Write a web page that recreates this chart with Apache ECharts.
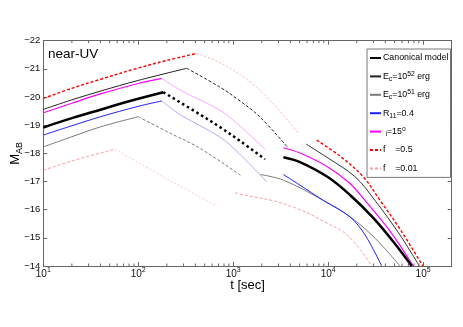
<!DOCTYPE html>
<html>
<head>
<meta charset="utf-8">
<script src="https://cdn.jsdelivr.net/npm/echarts@6/dist/echarts.min.js"></script>
<style>html,body{margin:0;padding:0;background:#fff}#c{width:463px;height:327px}</style>
</head>
<body>
<div id="c"></div>
<script>
// ---- data (t in sec, M_AB) ----
// Canonical model
const canonRiseT = [10, 20, 40, 80, 184];
const canonRiseM = [-18.92, -19.25, -19.55, -19.85, -20.17];
const canonFallT = [184, 447, 726, 1180, 2160];
const canonFallM = [-20.17, -19.38, -18.93, -18.44, -17.79];
const canonLateT = [3375, 5050, 10000, 17000, 30000, 50000, 75900];
const canonLateM = [-17.86, -17.69, -17.15, -16.52, -15.7, -14.81, -14.0];
// E_c = 1e52 erg
const e52RiseT = [10, 20, 40, 100, 324];
const e52RiseM = [-19.56, -19.9, -20.21, -20.59, -21.02];
const e52FallT = [324, 726, 1180, 1915, 3800];
const e52FallM = [-21.02, -20.35, -19.86, -19.29, -18.19];
const e52LateT = [5850, 10000, 19200, 31100, 57100, 91200];
const e52LateM = [-18.33, -17.83, -17.17, -16.33, -15.1, -14.0];
// E_c = 1e51 erg
const e51RiseT = [10, 20, 40, 100];
const e51RiseM = [-18.23, -18.59, -18.94, -19.3];
const e51FallT = [100, 216, 447, 1230];
const e51FallM = [-19.3, -18.72, -18.18, -17.19];
const e51LateT = [1915, 3375, 8890, 17000, 31100, 57100];
const e51LateM = [-17.25, -17.05, -16.33, -15.75, -14.99, -14.0];
// R_11 = 0.4
const r11RiseT = [10, 20, 40, 100, 177];
const r11RiseM = [-18.65, -18.98, -19.3, -19.67, -19.86];
const r11FallT = [177, 286, 726, 1180, 2250];
const r11FallM = [-19.86, -19.34, -18.58, -17.96, -16.99];
const r11LateT = [3375, 5050, 8890, 17000, 24500, 36600];
const r11LateM = [-17.25, -16.87, -16.33, -15.74, -15.1, -14.0];
// i = 15 deg
const incRiseT = [10, 20, 40, 100, 177];
const incRiseM = [-19.44, -19.78, -20.11, -20.48, -20.66];
const incFallT = [177, 286, 726, 1180, 2160];
const incFallM = [-20.66, -20.22, -19.53, -18.97, -18.14];
const incLateT = [3375, 5050, 10000, 17000, 24400, 44800, 78900];
const incLateM = [-18.2, -18.01, -17.51, -16.93, -16.33, -15.24, -14.0];
// f = 0.5
const f05RiseT = [10, 20, 40, 100, 200, 413];
const f05RiseM = [-19.95, -20.31, -20.63, -21.03, -21.3, -21.55];
const f05FallT = [413, 726, 1500, 2755, 4900];
const f05FallM = [-21.55, -21.22, -20.54, -19.7, -18.69];
const f05LateT = [7570, 13330, 23400, 35200, 57100, 99400];
const f05LateM = [-18.47, -17.9, -17.17, -16.33, -15.31, -14.0];
// f = 0.01
const f001RiseT = [10, 20, 57];
const f001RiseM = [-17.4, -17.73, -18.15];
const f001FallT = [57, 234, 670];
const f001FallM = [-18.15, -16.97, -16.13];
const f001LateT = [1045, 1500, 2755, 5050, 9270, 16300, 28800];
const f001LateM = [-16.6, -16.48, -16.3, -16.0, -15.56, -15.07, -14.0];

// axis ticks
const minorTicks = [20,30,40,50,60,70,80,90,200,300,400,500,600,700,800,900,
  2000,3000,4000,5000,6000,7000,8000,9000,20000,30000,40000,50000,60000,70000,80000,90000];

const legendNames = ['canon','e52','e51','r11','inc','f05','f001'];
const legendLabels = {
  canon: 'Canonical model',
  e52: 'E{sub|c}=10{sup|52} erg',
  e51: 'E{sub|c}=10{sup|51} erg',
  r11: 'R{sub|11}=0.4',
  inc: ' {sub|i}=15{sup|o}',
  f05: 'f    =0.5',
  f001: 'f    =0.01'
};

const FONT = '"Liberation Sans", Arial, Helvetica, sans-serif';
const AXC = '#666';

function seg(name, T, M, color, width, type, z) {
  return {
    type: 'line', name: name, xAxisIndex: 0, yAxisIndex: 0,
    data: T.map((t, i) => [t, M[i]]),
    showSymbol: false, symbol: 'none', smooth: 0.35,
    lineStyle: { color: color, width: width, type: type, cap: 'butt' },
    itemStyle: { color: color },
    z: z || 2, silent: true, animation: false
  };
}

const series = [
  seg('f001', f001RiseT, f001RiseM, '#ff9c9c', 1, [3, 2]),
  seg('f001_b', f001FallT, f001FallM, '#ffc8c8', 1, [2, 2]),
  seg('f001_c', f001LateT, f001LateM, '#ff9c9c', 1, [3, 2]),
  seg('e51', e51RiseT, e51RiseM, '#7a7a7a', 1, 'solid'),
  seg('e51_b', e51FallT, e51FallM, '#7a7a7a', 1, [3, 2]),
  seg('e51_c', e51LateT, e51LateM, '#7a7a7a', 1, 'solid'),
  seg('r11', r11RiseT, r11RiseM, '#2020ff', 1, 'solid'),
  seg('r11_b', r11FallT, r11FallM, '#aeaeff', 1, 'solid'),
  seg('r11_c', r11LateT, r11LateM, '#2020ff', 1, 'solid'),
  seg('inc', incRiseT, incRiseM, '#ff00ff', 1.2, 'solid'),
  seg('inc_b', incFallT, incFallM, '#ffa8ff', 1, 'solid'),
  seg('inc_c', incLateT, incLateM, '#ff00ff', 1.2, 'solid'),
  seg('e52', e52RiseT, e52RiseM, '#222222', 1, 'solid'),
  seg('e52_b', e52FallT, e52FallM, '#222222', 1, [3, 2]),
  seg('e52_c', e52LateT, e52LateM, '#333333', 1, 'solid'),
  seg('f05', f05RiseT, f05RiseM, '#ff0000', 1.4, [3, 2]),
  seg('f05_b', f05FallT, f05FallM, '#ffb4b4', 1, [2, 2]),
  seg('f05_c', f05LateT, f05LateM, '#ff0000', 1.4, [3, 2]),
  seg('canon', canonRiseT, canonRiseM, '#000000', 2.5, 'solid', 5),
  seg('canon_b', canonFallT, canonFallM, '#000000', 2.5, [2.5, 3], 5),
  seg('canon_c', canonLateT, canonLateM, '#000000', 2.5, 'solid', 5),
  {
    type: 'custom', name: 'minor', xAxisIndex: 0, yAxisIndex: 0, silent: true, animation: false,
    data: minorTicks.map(v => [v, -18]),
    encode: { x: 0, y: 1 },
    renderItem: function (params, api) {
      const t = api.value(0);
      const b = api.coord([t, -14]);
      const tp = api.coord([t, -22]);
      const st = { stroke: AXC, lineWidth: 1 };
      return { type: 'group', children: [
        { type: 'line', shape: { x1: b[0], y1: b[1], x2: b[0], y2: b[1] - 2.5 }, style: st },
        { type: 'line', shape: { x1: tp[0], y1: tp[1], x2: tp[0], y2: tp[1] + 2.5 }, style: st }
      ]};
    },
    z: 10
  }
];

function powLabel(v) {
  const e = Math.round(Math.log10(v));
  if (Math.abs(Math.pow(10, e) - v) / v > 1e-6) return '';
  return '{b|10}{s|' + e + '}';
}

const chart = echarts.init(document.getElementById('c'), null, { renderer: 'canvas' });
chart.setOption({
  animation: false,
  backgroundColor: '#fff',
  textStyle: { fontFamily: FONT },
  title: {
    text: 'near-UV', left: 48, top: 47, padding: 0,
    textStyle: { fontSize: 13.5, fontWeight: 'normal', color: '#000', fontFamily: FONT }
  },
  grid: { left: 43.3, right: 11.3, top: 40.7, bottom: 61, containLabel: false, outerBoundsMode: 'none' },
  legend: {
    data: legendNames, orient: 'vertical', left: 367, top: 49,
    backgroundColor: '#fff', borderColor: '#555', borderWidth: 0.8,
    padding: [3, 2, 3, 2], itemWidth: 11, itemHeight: 10, itemGap: 6.4,
    formatter: n => legendLabels[n],
    selectedMode: false,
    itemStyle: { opacity: 0, color: 'rgba(0,0,0,0)', borderWidth: 0 },
    textStyle: {
      fontFamily: FONT, fontSize: 8.8, color: '#000', lineHeight: 12,
      padding: [0, 0, 0, -3],
      rich: {
        sub: { fontSize: 6.8, lineHeight: 12, verticalAlign: 'bottom', fontFamily: FONT },
        sup: { fontSize: 6.8, lineHeight: 12, verticalAlign: 'top', fontFamily: FONT }
      }
    }
  },
  xAxis: [{
    type: 'log', logBase: 10, min: 10, max: 200000, position: 'bottom',
    name: 't [sec]', nameLocation: 'middle', nameGap: 13, nameMoveOverlap: false,
    nameTextStyle: { fontSize: 13, color: '#000', fontFamily: FONT },
    axisLine: { show: true, lineStyle: { color: AXC, width: 1 } },
    axisTick: { show: true, inside: true, length: 4, lineStyle: { color: AXC } },
    splitLine: { show: false }, minorTick: { show: false },
    axisLabel: {
      margin: 1, formatter: powLabel, showMinLabel: true, showMaxLabel: true,
      color: '#111',
      rich: {
        b: { fontSize: 10, lineHeight: 15, fontFamily: FONT, color: '#111' },
        s: { fontSize: 7, lineHeight: 8, verticalAlign: 'top', fontFamily: FONT, color: '#111' }
      }
    }
  }, {
    type: 'log', logBase: 10, min: 10, max: 200000, position: 'top',
    axisLine: { show: true, lineStyle: { color: AXC, width: 1 } },
    axisTick: { show: true, inside: true, length: 4, lineStyle: { color: AXC } },
    axisLabel: { show: false }, splitLine: { show: false }
  }],
  yAxis: [{
    type: 'value', min: -22, max: -14, interval: 1, inverse: true, position: 'left',
    name: '{m|M}{s|AB}', nameLocation: 'middle', nameGap: 19, nameMoveOverlap: false,
    nameTextStyle: {
      color: '#000', fontFamily: FONT,
      rich: {
        m: { fontSize: 13, lineHeight: 17, fontFamily: FONT, color: '#000' },
        s: { fontSize: 9, lineHeight: 17, verticalAlign: 'bottom', fontFamily: FONT, color: '#000' }
      }
    },
    axisLine: { show: true, lineStyle: { color: AXC, width: 1 } },
    axisTick: { show: true, inside: true, length: 4, lineStyle: { color: AXC } },
    splitLine: { show: false },
    axisLabel: {
      margin: 3, fontSize: 9.5, color: '#111', fontFamily: FONT,
      formatter: v => (v < 0 ? '\u2212' : '') + Math.abs(v)
    }
  }, {
    type: 'value', min: -22, max: -14, interval: 1, inverse: true, position: 'right',
    axisLine: { show: true, lineStyle: { color: AXC, width: 1 } },
    axisTick: { show: true, inside: true, length: 4, lineStyle: { color: AXC } },
    splitLine: { show: false }, axisLabel: { show: false }
  }],
  series: series
});
</script>
</body>
</html>
